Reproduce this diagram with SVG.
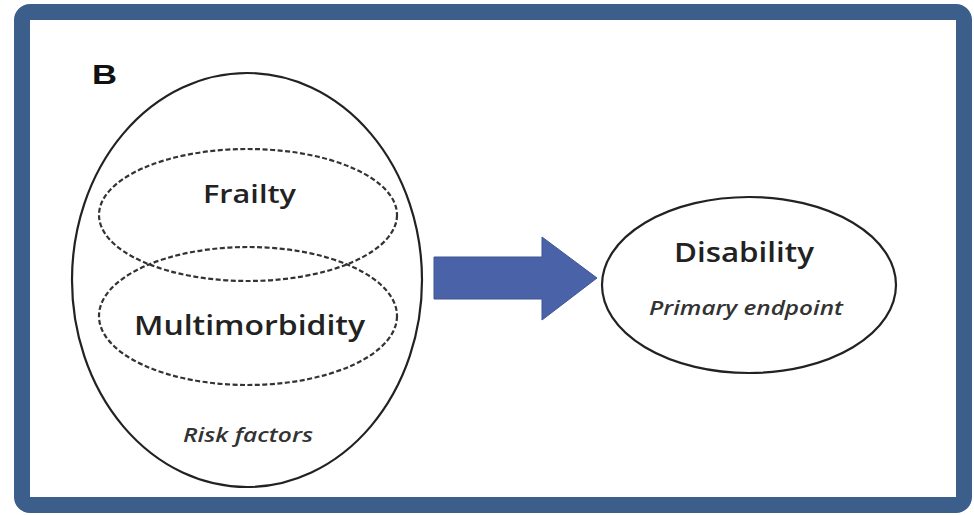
<svg xmlns="http://www.w3.org/2000/svg" width="974" height="515" viewBox="0 0 974 515">
  <style>
    .frame { fill: #ffffff; stroke: #3b5e8b; stroke-width: 16; }
    .outline { fill: none; stroke: #222222; stroke-width: 2.2; }
    .dashed { fill: none; stroke: #333333; stroke-width: 2.2; stroke-dasharray: 5 2.5; }
    .label { font-family: "Open Sans", "Liberation Sans", sans-serif; font-weight: 600; fill: #222222; }
    .note { font-family: "Open Sans", "Liberation Sans", sans-serif; font-style: italic; font-weight: 600; fill: #333333; }
  </style>

  <!-- panel frame -->
  <rect class="frame" x="22" y="12" width="942" height="493" rx="8"/>

  <!-- panel letter -->
  <text x="92" y="84" font-family="Liberation Sans, Arial, sans-serif" font-weight="bold" font-size="28" fill="#111111" textLength="25" lengthAdjust="spacingAndGlyphs">B</text>

  <!-- risk factors: outer ellipse with two overlapping dashed sets -->
  <g id="risk-factors">
    <ellipse class="outline" cx="247" cy="280" rx="175" ry="207"/>
    <text class="note" x="183" y="442" font-size="20" textLength="130" lengthAdjust="spacingAndGlyphs">Risk factors</text>
  </g>
  <g id="frailty">
    <ellipse class="dashed" cx="248" cy="215" rx="149" ry="66"/>
    <text class="label" x="203" y="203" font-size="26" textLength="93" lengthAdjust="spacingAndGlyphs">Frailty</text>
  </g>
  <g id="multimorbidity">
    <ellipse class="dashed" cx="248" cy="316" rx="149" ry="69"/>
    <text class="label" x="134" y="335" font-size="27" textLength="231" lengthAdjust="spacingAndGlyphs">Multimorbidity</text>
  </g>

  <!-- outcome -->
  <g id="disability">
    <ellipse class="outline" cx="749" cy="285" rx="147" ry="88"/>
    <text class="label" x="674" y="262" font-size="27" textLength="140" lengthAdjust="spacingAndGlyphs">Disability</text>
    <text class="note" x="649" y="315" font-size="20" textLength="194" lengthAdjust="spacingAndGlyphs">Primary endpoint</text>
  </g>

  <!-- connector: block arrow from risk factors to outcome -->
  <g id="connectors">
    <polygon points="434,257 542,257 542,237 597,278 542,320 542,299 434,299" fill="#4a62a8" stroke="#3e5594" stroke-width="1"/>
  </g>
</svg>
